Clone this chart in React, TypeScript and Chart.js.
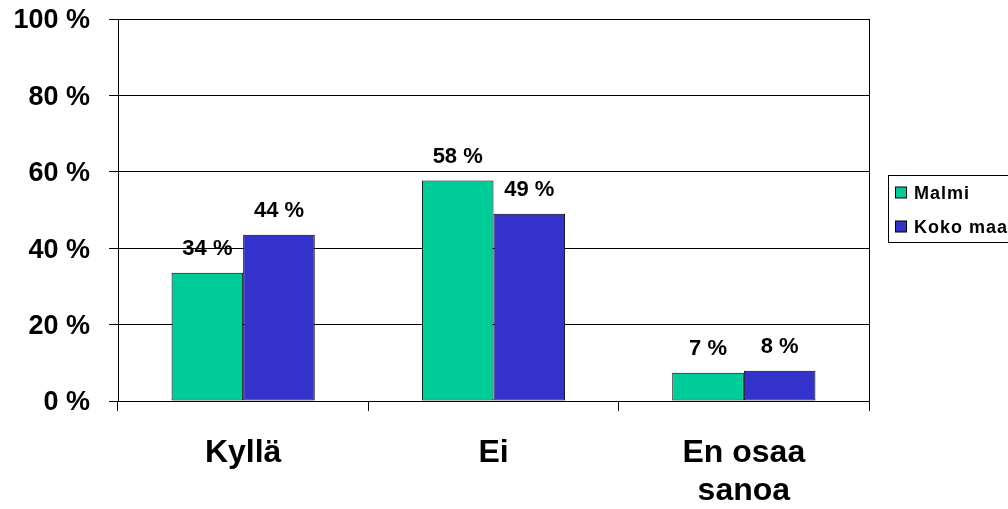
import React, { useEffect, useRef } from "react";
import { Chart, registerables } from "chart.js";

Chart.register(...registerables);

const categories: string[][] = [["Kyllä"], ["Ei"], ["En osaa", "sanoa"]];
const seriesNames = ["Malmi", "Koko maa"];
const malmiValues = [33.6, 57.7, 7.4];
const kokoMaaValues = [43.5, 49.0, 7.9];
const yTicks = [0, 20, 40, 60, 80, 100];

const colors = ["#00CC99", "#3333CC"];
const FONT = "'Liberation Sans', Arial, sans-serif";

const labelsPlugin = {
  id: "valueLabels",
  afterDatasetsDraw(chart: any) {
    const ctx = chart.ctx;
    ctx.save();
    ctx.font = `bold 22px ${FONT}`;
    ctx.fillStyle = "#000";
    ctx.textAlign = "center";
    ctx.textBaseline = "middle";
    chart.data.datasets.forEach((ds: any, di: number) => {
      const meta = chart.getDatasetMeta(di);
      meta.data.forEach((bar: any, i: number) => {
        const v = ds.data[i];
        ctx.fillText(`${Math.round(v)} %`, bar.x, bar.y - 24);
      });
    });
    ctx.restore();
  },
};

const framePlugin = {
  id: "frameAndLegend",
  afterDraw(chart: any) {
    const ctx = chart.ctx;
    const a = chart.chartArea;
    ctx.save();
    ctx.strokeStyle = "#000";
    ctx.lineWidth = 1;
    ctx.beginPath();
    ctx.moveTo(Math.round(a.right) + 0.5, a.top);
    ctx.lineTo(Math.round(a.right) + 0.5, a.bottom);
    ctx.stroke();

    // legend
    const lx = 888.5;
    const ly = 175.5;
    ctx.strokeRect(lx, ly, 140, 67);
    ctx.font = `bold 18px ${FONT}`;
    try {
      (ctx as any).letterSpacing = "1px";
    } catch (e) {}
    ctx.textAlign = "left";
    ctx.textBaseline = "middle";
    seriesNames.forEach((name, i) => {
      const cy = 193 + i * 34;
      ctx.fillStyle = colors[i];
      ctx.fillRect(895.5, cy - 6, 11, 11);
      ctx.strokeRect(895.5, cy - 6, 11, 11);
      ctx.fillStyle = "#000";
      ctx.fillText(name, 914, cy + 1);
    });
    ctx.restore();
  },
};

export default function App() {
  const ref = useRef<HTMLCanvasElement | null>(null);
  useEffect(() => {
    if (!ref.current) return;
    const chart = new Chart(ref.current, {
      type: "bar",
      data: {
        labels: categories,
        datasets: [
          {
            label: seriesNames[0],
            data: malmiValues,
            backgroundColor: colors[0],
            borderColor: "#000",
            borderWidth: 1,
            borderSkipped: false,
            categoryPercentage: 0.572,
            barPercentage: 1.0,
          },
          {
            label: seriesNames[1],
            data: kokoMaaValues,
            backgroundColor: colors[1],
            borderColor: "#000",
            borderWidth: 1,
            borderSkipped: false,
            categoryPercentage: 0.572,
            barPercentage: 1.0,
          },
        ],
      },
      options: {
        responsive: false,
        animation: false,
        events: [],
        layout: { padding: { left: 0, top: 19, right: 139, bottom: 0 } },
        plugins: {
          legend: { display: false },
          tooltip: { enabled: false },
        },
        scales: {
          x: {
            grid: {
              offset: true,
              drawOnChartArea: false,
              drawTicks: true,
              tickLength: 10,
              color: "#000",
              lineWidth: 1,
            },
            border: { display: true, color: "#000", width: 1 },
            ticks: {
              color: "#000",
              font: { family: FONT, size: 32, weight: "bold" },
              padding: 23,
              maxRotation: 0,
              autoSkip: false,
            },
            afterFit(scale: any) {
              scale.height = 108;
              scale.paddingLeft = 0;
              scale.paddingRight = 0;
            },
          },
          y: {
            min: 0,
            max: 100,
            afterBuildTicks(scale: any) {
              scale.ticks = yTicks.map((v) => ({ value: v }));
            },
            grid: {
              color: "#000",
              lineWidth: 1,
              tickLength: 9,
              drawTicks: true,
            },
            border: { display: true, color: "#000", width: 1 },
            ticks: {
              color: "#000",
              font: { family: FONT, size: 27, weight: "bold" },
              padding: 19,
              labelOffset: 2,
              callback: (v: any) => `${v} %`,
            },
            afterFit(scale: any) {
              scale.width = 118;
              scale.paddingTop = 0;
              scale.paddingBottom = 0;
            },
          },
        },
      },
      plugins: [labelsPlugin, framePlugin],
    });
    return () => chart.destroy();
  }, []);
  return (
    <div style={{ position: "fixed", left: 0, top: 0, width: 1008, height: 509, background: "#fff" }}>
      <canvas ref={ref} width={1008} height={509} style={{ display: "block" }} />
    </div>
  );
}
